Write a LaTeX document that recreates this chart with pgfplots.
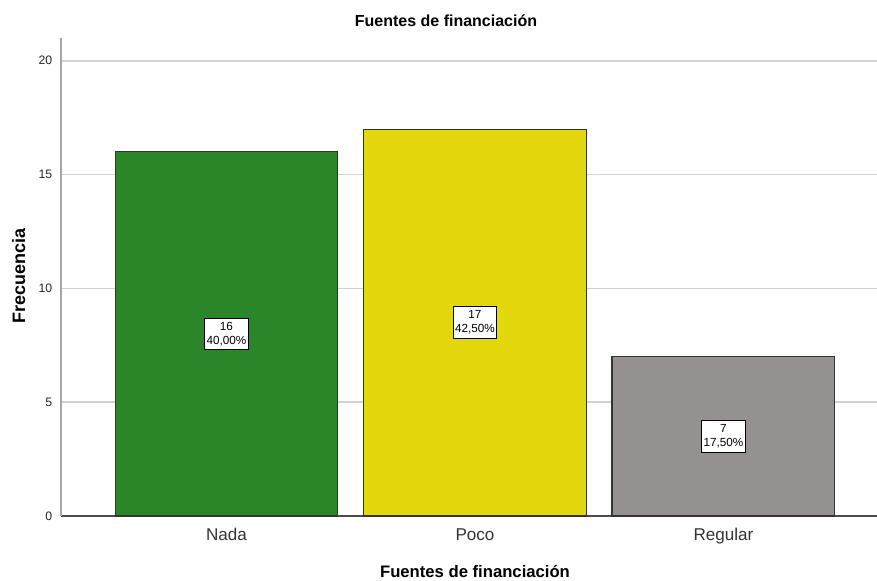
\documentclass[border=0pt]{standalone}
\usepackage{pgfplots}
\pgfplotsset{compat=1.18}
\usepackage{fontspec}
\setmainfont{Liberation Sans}
\definecolor{cgreen}{RGB}{42,134,40}
\definecolor{cyellow}{RGB}{227,216,14}
\definecolor{cgray}{RGB}{149,145,144}
\begin{document}
\begin{tikzpicture}
\useasboundingbox (0,0) rectangle (657.75pt,435.75pt);
\begin{axis}[
  at={(45.75pt,48.75pt)}, anchor=south west,
  scale only axis, width=612pt, height=358.5pt,
  xmin=-0.666, xmax=2.618, ymin=0, ymax=21,
  axis x line*=bottom, axis y line*=left,
  x axis line style={draw=black!70, line width=0.9pt},
  y axis line style={draw=black!35, line width=1.3pt},
  xtick={0,1,2}, xticklabels={Nada,Poco,Regular},
  ytick={0,5,10,15,20},
  major tick length=0pt,
  ymajorgrids, grid style={draw=black!18, line width=1.2pt},
  /pgf/number format/assume math mode=true,
  xticklabel style={font=\fontsize{12.8}{14}\selectfont, text=black!80, anchor=base, yshift=-18.75pt},
  yticklabel style={font=\fontsize{9.2}{10}\selectfont, text=black!85, xshift=-3pt},
  clip=false,
]
\addplot[ybar, bar shift=0pt, bar width=0.897, fill=cgreen, draw=black!80, line width=0.8pt] coordinates {(0,16)};
\addplot[ybar, bar shift=0pt, bar width=0.897, fill=cyellow, draw=black!80, line width=0.8pt] coordinates {(1,17)};
\addplot[ybar, bar shift=0pt, bar width=0.897, fill=cgray, draw=black!80, line width=0.8pt] coordinates {(2,7)};
\addplot[draw=none, nodes near coords, point meta=explicit symbolic,
  every node near coord/.style={draw=black, fill=white, align=center, anchor=center,
    font=\fontsize{8.8}{10.5}\selectfont, inner xsep=1.5pt, inner ysep=3pt, line width=0.7pt}]
  coordinates {(0,8) [{16\\40,00\%}] (1,8.5) [{17\\42,50\%}] (2,3.5) [{7\\17,50\%}]};
\end{axis}
\node[font=\bfseries\fontsize{12}{14}\selectfont] at (334.5pt,420pt) {Fuentes de financiación};
\node[font=\bfseries\fontsize{12.5}{14}\selectfont] at (356.25pt,7.5pt) {Fuentes de financiación};
\node[font=\bfseries\fontsize{13.5}{15}\selectfont, rotate=90] at (14pt,229pt) {Frecuencia};
\end{tikzpicture}
\end{document}
